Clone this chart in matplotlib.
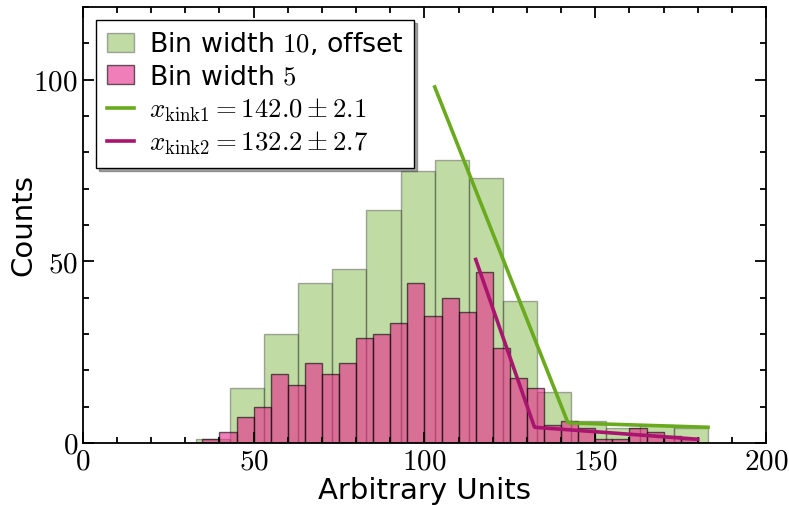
import numpy as np
import matplotlib.pyplot as plt
from matplotlib.ticker import MultipleLocator, FuncFormatter

# histogram data
edges_10 = [33, 43, 53, 63, 73, 83, 93, 103, 113, 123, 133, 143, 153, 163, 173, 183]
counts_10 = [1, 15, 30, 44, 48, 64, 75, 78, 73, 39, 14, 6, 4, 5, 4]

edges_5 = list(range(35, 185, 5))
counts_5 = [1, 3, 7, 10, 19, 16, 22, 19, 22, 29, 30, 33, 44, 35, 40, 36, 47,
            26, 18, 15, 5, 6, 4, 1, 1, 4, 3, 2, 1]

# kink fits: start, kink, end x and value at those points
fit1_x = [103, 142.0, 183]
fit1_y = [98, 5.5, 4.3]
fit2_x = [115, 132.2, 180]
fit2_y = [50.5, 4.3, 1.0]
fit1_label = r"$x_\mathrm{kink1} = 142.0 \pm 2.1$"
fit2_label = r"$x_\mathrm{kink2} = 132.2 \pm 2.7$"

plt.rcParams['mathtext.fontset'] = 'cm'
plt.rcParams['font.family'] = ['DejaVu Sans']
plt.rcParams['font.size'] = 19

green = '#66a61e'
pink = '#e7298a'

fig = plt.figure(figsize=(7.89, 5.05), dpi=100)
ax = fig.add_axes([0.105, 0.123, 0.866, 0.863])

w10 = np.diff(edges_10)
w5 = np.diff(edges_5)
b1 = ax.bar(edges_10[:-1], counts_10, width=w10, align='edge', color=green,
            alpha=0.4, edgecolor='#333333', linewidth=1, label=r"Bin width $10$, offset")
b2 = ax.bar(edges_5[:-1], counts_5, width=w5, align='edge', color=pink,
            alpha=0.6, edgecolor='black', linewidth=1, label=r"Bin width $5$")

def piecewise(xs, ys):
    x = np.linspace(xs[0], xs[-1], 400)
    return x, np.interp(x, xs, ys)

x1, y1 = piecewise(fit1_x, fit1_y)
x2, y2 = piecewise(fit2_x, fit2_y)
l1, = ax.plot(x1, y1, color='#6aaa1e', lw=2.6, label=fit1_label)
l2, = ax.plot(x2, y2, color='#a8146e', lw=2.6, label=fit2_label)

ax.set_xlim(0, 200)
ax.set_ylim(0, 120)
ax.xaxis.set_major_locator(MultipleLocator(50))
ax.xaxis.set_minor_locator(MultipleLocator(10))
ax.yaxis.set_major_locator(MultipleLocator(50))
ax.yaxis.set_minor_locator(MultipleLocator(10))
mathfmt = FuncFormatter(lambda v, p: r"$%d$" % v)
ax.xaxis.set_major_formatter(mathfmt)
ax.yaxis.set_major_formatter(mathfmt)
ax.tick_params(which='both', direction='in', top=True, right=True, width=1.3)
ax.tick_params(which='major', length=8, labelsize=21)
ax.tick_params(which='minor', length=4)
for s in ax.spines.values():
    s.set_linewidth(1.3)

ax.set_xlabel("Arbitrary Units", fontsize=21, labelpad=1)
ax.set_ylabel("Counts", fontsize=21, labelpad=-3)

leg = ax.legend(handles=[b1, b2, l1, l2], loc='upper left', fancybox=False,
                shadow=True, framealpha=1, edgecolor='black', handlelength=1.0,
                handletextpad=0.55, borderaxespad=0.5, labelspacing=0.22,
                borderpad=0.4, fontsize=19.3)
leg.get_frame().set_linewidth(1.0)

fig.savefig("out.png", dpi=100)
